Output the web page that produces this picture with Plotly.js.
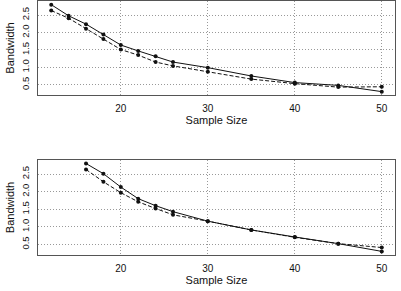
<!DOCTYPE html>
<html>
<head>
<meta charset="utf-8">
<script src="https://cdn.plot.ly/plotly-3.0.1.min.js"></script>
<style>
  html, body { margin: 0; padding: 0; background: #fff; }
  #chart { width: 401px; height: 291px; }
</style>
</head>
<body>
<div id="chart"></div>
<script>
// Upper panel: bandwidth by sample size
const sizesTop = [12, 14, 16, 18, 20, 22, 24, 26, 30, 35, 40, 45, 50];
const solidTop = [2.80, 2.48, 2.24, 1.94, 1.64, 1.47, 1.32, 1.15, 0.99, 0.75, 0.56, 0.48, 0.30];
const dashedTop = [2.63, 2.41, 2.11, 1.81, 1.51, 1.35, 1.15, 1.04, 0.87, 0.66, 0.53, 0.43, 0.44];

// Lower panel: bandwidth by sample size
const sizesBottom = [16, 18, 20, 22, 24, 26, 30, 35, 40, 45, 50];
const solidBottom = [2.80, 2.51, 2.13, 1.80, 1.60, 1.43, 1.16, 0.91, 0.71, 0.52, 0.30];
const dashedBottom = [2.63, 2.28, 1.97, 1.71, 1.52, 1.34, 1.16, 0.91, 0.70, 0.52, 0.41];

// Tick labels
const xTicks = [20, 30, 40, 50];
const yTicks = [0.5, 1.0, 1.5, 2.0, 2.5];
const yTickText = ['0.5', '1.0', '1.5', '2.0', '2.5'];

function series(x, y, dash, xa, ya) {
  return {
    x: x, y: y, xaxis: xa, yaxis: ya,
    type: 'scatter', mode: 'lines+markers',
    line: { color: '#111', width: 1, dash: dash },
    marker: { color: '#111', size: 4 },
    showlegend: false, hoverinfo: 'skip'
  };
}

const traces = [
  series(sizesTop, solidTop, 'solid', 'x2', 'y2'),
  series(sizesTop, dashedTop, '4px,2px', 'x2', 'y2'),
  series(sizesBottom, solidBottom, 'solid', 'x', 'y'),
  series(sizesBottom, dashedBottom, '4px,2px', 'x', 'y')
];

const family = 'Liberation Sans, Arial, sans-serif';
const titleFont = { family: family, size: 11, color: '#111' };
const xTickFont = { family: family, size: 10, color: '#111' };
const yTickFont = { family: family, size: 9.5, color: '#111' };

function xAxis(anchor) {
  return {
    anchor: anchor, domain: [0, 1], range: [10.48, 51.52],
    tickvals: xTicks, ticktext: xTicks.map(String), ticks: '',
    showgrid: true, gridcolor: '#999', griddash: '1px,2px', gridwidth: 1,
    showline: true, mirror: true, linecolor: '#555', linewidth: 1,
    zeroline: false, tickfont: xTickFont, ticklabelstandoff: 4,
    title: { text: 'Sample Size', font: titleFont, standoff: 3 }
  };
}

function yAxis(anchor, domain, range) {
  return {
    anchor: anchor, domain: domain, range: range,
    tickvals: yTicks, ticktext: yTickText, ticks: '', tickangle: -90,
    showgrid: true, gridcolor: '#999', griddash: '1px,2px', gridwidth: 1,
    showline: true, mirror: true, linecolor: '#555', linewidth: 1,
    zeroline: false, tickfont: yTickFont, ticklabelstandoff: 4,
    title: { text: 'Bandwidth', font: titleFont, standoff: 3 }
  };
}

const layout = {
  width: 401, height: 291,
  margin: { l: 38, r: 6, t: 1, b: 36 },
  paper_bgcolor: '#fff', plot_bgcolor: '#fff',
  font: titleFont,
  xaxis: xAxis('y'),
  yaxis: yAxis('x', [0, 0.374], [0.197, 2.90]),
  xaxis2: xAxis('y2'),
  yaxis2: yAxis('x2', [0.630, 1], [0.204, 2.905])
};

Plotly.newPlot('chart', traces, layout, { staticPlot: true, displayModeBar: false });
</script>
</body>
</html>
